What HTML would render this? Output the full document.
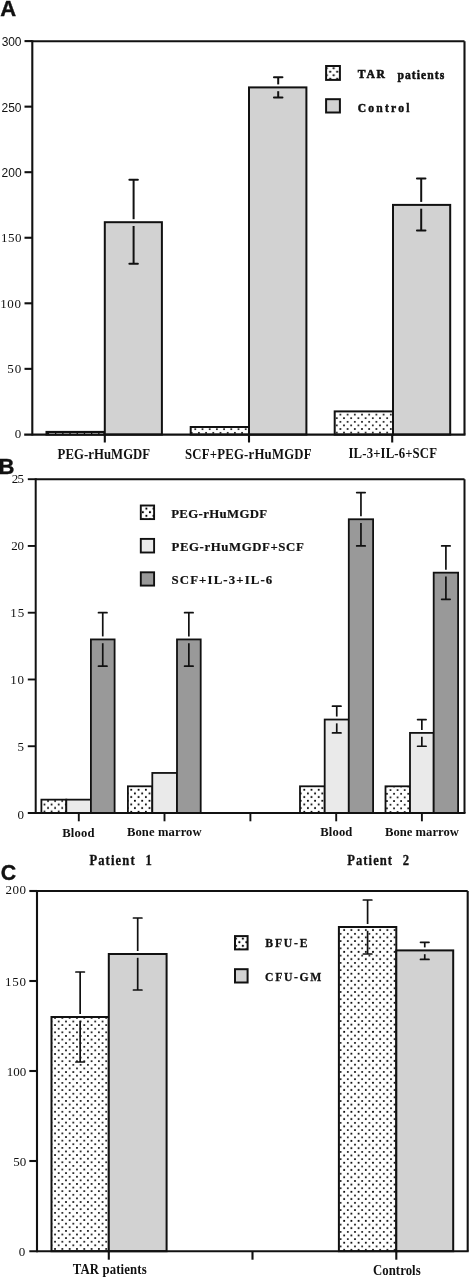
<!DOCTYPE html>
<html><head><meta charset="utf-8"><style>
html,body{margin:0;padding:0;background:#fff;width:471px;height:1280px;overflow:hidden}
svg{display:block;will-change:transform}
text{fill:#111}
.ab{font-family:"Liberation Sans",sans-serif;font-weight:bold;stroke:#111;stroke-width:0.4px}
.a{font-family:"Liberation Sans",sans-serif}
.s{font-family:"Liberation Serif",serif}
.sb{font-family:"Liberation Serif",serif;font-weight:bold}
</style></head><body>
<svg width="471" height="1280" viewBox="0 0 471 1280">
<defs>
<pattern id="dots" patternUnits="userSpaceOnUse" width="7.27" height="7.34" x="0.3" y="0.5">
<circle cx="1.8" cy="1.8" r="1.0" fill="#000"/><circle cx="5.435" cy="5.47" r="1.0" fill="#000"/>
</pattern>
<pattern id="dotsA2" patternUnits="userSpaceOnUse" width="7.2" height="7.2" x="193.50" y="427.40"><circle cx="1.8" cy="1.8" r="1.0" fill="#000"/><circle cx="5.40" cy="5.40" r="1.0" fill="#000"/></pattern>
<pattern id="dotsB1" patternUnits="userSpaceOnUse" width="7.1" height="7.0" x="42.70" y="802.70"><circle cx="1.8" cy="1.8" r="1.0" fill="#000"/><circle cx="5.35" cy="5.30" r="1.0" fill="#000"/></pattern>
<pattern id="dotsB2" patternUnits="userSpaceOnUse" width="7.3" height="7.34" x="129.45" y="788.00"><circle cx="1.8" cy="1.8" r="1.0" fill="#000"/><circle cx="5.45" cy="5.47" r="1.0" fill="#000"/></pattern>
<pattern id="dotsB3" patternUnits="userSpaceOnUse" width="7.2" height="7.34" x="302.50" y="788.00"><circle cx="1.8" cy="1.8" r="1.0" fill="#000"/><circle cx="5.40" cy="5.47" r="1.0" fill="#000"/></pattern>
<pattern id="dotsB4" patternUnits="userSpaceOnUse" width="7.1" height="7.3" x="388.70" y="788.30"><circle cx="1.8" cy="1.8" r="1.0" fill="#000"/><circle cx="5.35" cy="5.45" r="1.0" fill="#000"/></pattern>
<pattern id="dotsA3" patternUnits="userSpaceOnUse" width="7.2" height="7.2" x="338.60" y="412.80"><circle cx="1.8" cy="1.8" r="1.0" fill="#000"/><circle cx="5.40" cy="5.40" r="1.0" fill="#000"/></pattern>
<pattern id="dotsC1" patternUnits="userSpaceOnUse" width="7.31" height="7.22" x="64.20" y="1019.70"><circle cx="1.8" cy="1.8" r="1.0" fill="#000"/><circle cx="5.46" cy="5.41" r="1.0" fill="#000"/></pattern>
<pattern id="dotsC2" patternUnits="userSpaceOnUse" width="7.2" height="7.27" x="346.00" y="1099.20"><circle cx="1.8" cy="1.8" r="1.0" fill="#000"/><circle cx="5.40" cy="5.43" r="1.0" fill="#000"/></pattern>
<pattern id="dotsA" patternUnits="userSpaceOnUse" width="7.0" height="7.0" x="328.40" y="69.90"><circle cx="1.8" cy="1.8" r="1.1" fill="#000"/><circle cx="5.30" cy="5.30" r="1.1" fill="#000"/></pattern>
<pattern id="dotsB" patternUnits="userSpaceOnUse" width="7.1" height="7.2" x="144.60" y="506.80"><circle cx="1.8" cy="1.8" r="1.1" fill="#000"/><circle cx="5.35" cy="5.40" r="1.1" fill="#000"/></pattern>
<pattern id="dotsC" patternUnits="userSpaceOnUse" width="7.0" height="7.2" x="241.10" y="936.80"><circle cx="1.8" cy="1.8" r="1.1" fill="#000"/><circle cx="5.30" cy="5.40" r="1.1" fill="#000"/></pattern>
</defs>
<rect width="471" height="1280" fill="#fff"/>
<rect x="45.50" y="430.9" width="60.30" height="4.7" fill="#111"/>
<line x1="49.1" y1="433.5" x2="103.30" y2="433.5" stroke="#fff" stroke-width="1.0" stroke-dasharray="5.9 1.3"/>
<rect x="104.80" y="222.20" width="57.10" height="212.40" fill="#d2d2d2" stroke="#111" stroke-width="2.0"/>
<line x1="133.60" y1="179.80" x2="133.60" y2="219.20" stroke="#111" stroke-width="2.0" stroke-linecap="butt"/>
<line x1="133.60" y1="226.00" x2="133.60" y2="263.80" stroke="#111" stroke-width="2.0" stroke-linecap="butt"/>
<line x1="129.35" y1="179.80" x2="137.85" y2="179.80" stroke="#111" stroke-width="2.0" stroke-linecap="round"/>
<line x1="129.35" y1="263.80" x2="137.85" y2="263.80" stroke="#111" stroke-width="2.0" stroke-linecap="round"/>
<rect x="190.70" y="427.00" width="58.30" height="7.60" fill="url(#dotsA2)" stroke="#111" stroke-width="2.0"/>
<rect x="249.00" y="87.40" width="57.40" height="347.20" fill="#d2d2d2" stroke="#111" stroke-width="2.0"/>
<line x1="278.20" y1="77.20" x2="278.20" y2="84.40" stroke="#111" stroke-width="2.0" stroke-linecap="butt"/>
<line x1="278.20" y1="91.20" x2="278.20" y2="97.60" stroke="#111" stroke-width="2.0" stroke-linecap="butt"/>
<line x1="273.95" y1="77.20" x2="282.45" y2="77.20" stroke="#111" stroke-width="2.0" stroke-linecap="round"/>
<line x1="273.95" y1="97.60" x2="282.45" y2="97.60" stroke="#111" stroke-width="2.0" stroke-linecap="round"/>
<rect x="334.70" y="411.40" width="58.30" height="23.20" fill="url(#dotsA3)" stroke="#111" stroke-width="2.0"/>
<rect x="393.00" y="204.90" width="57.20" height="229.70" fill="#d2d2d2" stroke="#111" stroke-width="2.0"/>
<line x1="421.20" y1="178.60" x2="421.20" y2="201.90" stroke="#111" stroke-width="2.0" stroke-linecap="butt"/>
<line x1="421.20" y1="208.70" x2="421.20" y2="230.50" stroke="#111" stroke-width="2.0" stroke-linecap="butt"/>
<line x1="416.95" y1="178.60" x2="425.45" y2="178.60" stroke="#111" stroke-width="2.0" stroke-linecap="round"/>
<line x1="416.95" y1="230.50" x2="425.45" y2="230.50" stroke="#111" stroke-width="2.0" stroke-linecap="round"/>
<line x1="32.30" y1="41.30" x2="464.50" y2="41.30" stroke="#111" stroke-width="2.1" stroke-linecap="butt"/>
<line x1="464.50" y1="41.30" x2="464.50" y2="434.60" stroke="#111" stroke-width="2.1" stroke-linecap="butt"/>
<line x1="32.30" y1="40.30" x2="32.30" y2="435.60" stroke="#111" stroke-width="2.1" stroke-linecap="butt"/>
<line x1="24.20" y1="434.60" x2="465.50" y2="434.60" stroke="#111" stroke-width="2.1" stroke-linecap="butt"/>
<line x1="24.50" y1="368.85" x2="32.30" y2="368.85" stroke="#111" stroke-width="2.1" stroke-linecap="butt"/>
<line x1="24.50" y1="303.30" x2="32.30" y2="303.30" stroke="#111" stroke-width="2.1" stroke-linecap="butt"/>
<line x1="24.50" y1="237.75" x2="32.30" y2="237.75" stroke="#111" stroke-width="2.1" stroke-linecap="butt"/>
<line x1="24.50" y1="172.20" x2="32.30" y2="172.20" stroke="#111" stroke-width="2.1" stroke-linecap="butt"/>
<line x1="24.50" y1="106.65" x2="32.30" y2="106.65" stroke="#111" stroke-width="2.1" stroke-linecap="butt"/>
<line x1="24.50" y1="41.10" x2="32.30" y2="41.10" stroke="#111" stroke-width="2.1" stroke-linecap="butt"/>
<line x1="104.80" y1="434.60" x2="104.80" y2="442.50" stroke="#111" stroke-width="2.1" stroke-linecap="butt"/>
<line x1="249.00" y1="434.60" x2="249.00" y2="442.50" stroke="#111" stroke-width="2.1" stroke-linecap="butt"/>
<line x1="392.20" y1="434.60" x2="392.20" y2="442.50" stroke="#111" stroke-width="2.1" stroke-linecap="butt"/>
<rect x="326.10" y="66.00" width="13.80" height="13.90" fill="url(#dotsA)" stroke="#111" stroke-width="2.0"/>
<rect x="326.10" y="99.20" width="13.80" height="13.30" fill="#d2d2d2" stroke="#111" stroke-width="2.0"/>
<rect x="41.40" y="799.65" width="24.90" height="13.35" fill="url(#dotsB1)" stroke="#111" stroke-width="1.8"/>
<rect x="66.30" y="799.65" width="24.60" height="13.35" fill="#eaeaea" stroke="#111" stroke-width="1.8"/>
<rect x="90.90" y="639.42" width="23.70" height="173.58" fill="#999999" stroke="#111" stroke-width="1.8"/>
<line x1="102.75" y1="612.72" x2="102.75" y2="636.42" stroke="#111" stroke-width="1.7" stroke-linecap="butt"/>
<line x1="102.75" y1="643.22" x2="102.75" y2="666.13" stroke="#111" stroke-width="1.7" stroke-linecap="butt"/>
<line x1="98.50" y1="612.72" x2="107.00" y2="612.72" stroke="#111" stroke-width="1.7" stroke-linecap="round"/>
<line x1="98.50" y1="666.13" x2="107.00" y2="666.13" stroke="#111" stroke-width="1.7" stroke-linecap="round"/>
<rect x="127.90" y="786.30" width="24.40" height="26.70" fill="url(#dotsB2)" stroke="#111" stroke-width="1.8"/>
<rect x="152.30" y="772.94" width="24.70" height="40.06" fill="#eaeaea" stroke="#111" stroke-width="1.8"/>
<rect x="177.00" y="639.42" width="23.70" height="173.58" fill="#999999" stroke="#111" stroke-width="1.8"/>
<line x1="188.85" y1="612.72" x2="188.85" y2="636.42" stroke="#111" stroke-width="1.7" stroke-linecap="butt"/>
<line x1="188.85" y1="643.22" x2="188.85" y2="666.13" stroke="#111" stroke-width="1.7" stroke-linecap="butt"/>
<line x1="184.60" y1="612.72" x2="193.10" y2="612.72" stroke="#111" stroke-width="1.7" stroke-linecap="round"/>
<line x1="184.60" y1="666.13" x2="193.10" y2="666.13" stroke="#111" stroke-width="1.7" stroke-linecap="round"/>
<rect x="300.00" y="786.30" width="24.70" height="26.70" fill="url(#dotsB3)" stroke="#111" stroke-width="1.8"/>
<rect x="324.70" y="719.54" width="24.10" height="93.46" fill="#eaeaea" stroke="#111" stroke-width="1.8"/>
<rect x="348.80" y="519.26" width="24.30" height="293.74" fill="#999999" stroke="#111" stroke-width="1.8"/>
<line x1="336.75" y1="706.18" x2="336.75" y2="716.54" stroke="#111" stroke-width="1.7" stroke-linecap="butt"/>
<line x1="336.75" y1="723.34" x2="336.75" y2="732.89" stroke="#111" stroke-width="1.7" stroke-linecap="butt"/>
<line x1="332.50" y1="706.18" x2="341.00" y2="706.18" stroke="#111" stroke-width="1.7" stroke-linecap="round"/>
<line x1="332.50" y1="732.89" x2="341.00" y2="732.89" stroke="#111" stroke-width="1.7" stroke-linecap="round"/>
<line x1="360.95" y1="492.55" x2="360.95" y2="516.26" stroke="#111" stroke-width="1.7" stroke-linecap="butt"/>
<line x1="360.95" y1="523.06" x2="360.95" y2="545.96" stroke="#111" stroke-width="1.7" stroke-linecap="butt"/>
<line x1="356.70" y1="492.55" x2="365.20" y2="492.55" stroke="#111" stroke-width="1.7" stroke-linecap="round"/>
<line x1="356.70" y1="545.96" x2="365.20" y2="545.96" stroke="#111" stroke-width="1.7" stroke-linecap="round"/>
<rect x="385.50" y="786.30" width="24.50" height="26.70" fill="url(#dotsB4)" stroke="#111" stroke-width="1.8"/>
<rect x="410.00" y="732.89" width="23.70" height="80.11" fill="#eaeaea" stroke="#111" stroke-width="1.8"/>
<rect x="433.70" y="572.66" width="24.40" height="240.34" fill="#999999" stroke="#111" stroke-width="1.8"/>
<line x1="421.85" y1="719.54" x2="421.85" y2="729.89" stroke="#111" stroke-width="1.7" stroke-linecap="butt"/>
<line x1="421.85" y1="736.69" x2="421.85" y2="746.24" stroke="#111" stroke-width="1.7" stroke-linecap="butt"/>
<line x1="417.60" y1="719.54" x2="426.10" y2="719.54" stroke="#111" stroke-width="1.7" stroke-linecap="round"/>
<line x1="417.60" y1="746.24" x2="426.10" y2="746.24" stroke="#111" stroke-width="1.7" stroke-linecap="round"/>
<line x1="445.90" y1="545.96" x2="445.90" y2="569.66" stroke="#111" stroke-width="1.7" stroke-linecap="butt"/>
<line x1="445.90" y1="576.46" x2="445.90" y2="599.37" stroke="#111" stroke-width="1.7" stroke-linecap="butt"/>
<line x1="441.65" y1="545.96" x2="450.15" y2="545.96" stroke="#111" stroke-width="1.7" stroke-linecap="round"/>
<line x1="441.65" y1="599.37" x2="450.15" y2="599.37" stroke="#111" stroke-width="1.7" stroke-linecap="round"/>
<line x1="35.70" y1="479.30" x2="464.50" y2="479.30" stroke="#111" stroke-width="2.0" stroke-linecap="butt"/>
<line x1="464.50" y1="479.30" x2="464.50" y2="813.00" stroke="#111" stroke-width="2.0" stroke-linecap="butt"/>
<line x1="35.70" y1="478.30" x2="35.70" y2="814.00" stroke="#111" stroke-width="2.0" stroke-linecap="butt"/>
<line x1="27.80" y1="813.00" x2="465.50" y2="813.00" stroke="#111" stroke-width="2.0" stroke-linecap="butt"/>
<line x1="27.80" y1="746.24" x2="35.70" y2="746.24" stroke="#111" stroke-width="1.9" stroke-linecap="butt"/>
<line x1="27.80" y1="679.48" x2="35.70" y2="679.48" stroke="#111" stroke-width="1.9" stroke-linecap="butt"/>
<line x1="27.80" y1="612.72" x2="35.70" y2="612.72" stroke="#111" stroke-width="1.9" stroke-linecap="butt"/>
<line x1="27.80" y1="545.96" x2="35.70" y2="545.96" stroke="#111" stroke-width="1.9" stroke-linecap="butt"/>
<line x1="27.80" y1="479.20" x2="35.70" y2="479.20" stroke="#111" stroke-width="1.9" stroke-linecap="butt"/>
<line x1="78.80" y1="813.00" x2="78.80" y2="821.30" stroke="#111" stroke-width="1.9" stroke-linecap="butt"/>
<line x1="164.50" y1="813.00" x2="164.50" y2="821.30" stroke="#111" stroke-width="1.9" stroke-linecap="butt"/>
<line x1="250.40" y1="813.00" x2="250.40" y2="821.30" stroke="#111" stroke-width="1.9" stroke-linecap="butt"/>
<line x1="336.20" y1="813.00" x2="336.20" y2="821.30" stroke="#111" stroke-width="1.9" stroke-linecap="butt"/>
<line x1="421.90" y1="813.00" x2="421.90" y2="821.30" stroke="#111" stroke-width="1.9" stroke-linecap="butt"/>
<rect x="140.80" y="505.50" width="13.30" height="13.60" fill="url(#dotsB)" stroke="#111" stroke-width="1.9"/>
<rect x="140.80" y="538.90" width="13.30" height="13.60" fill="#eaeaea" stroke="#111" stroke-width="1.9"/>
<rect x="140.80" y="572.30" width="13.30" height="13.30" fill="#999999" stroke="#111" stroke-width="1.9"/>
<rect x="51.50" y="1017.00" width="57.30" height="234.20" fill="url(#dotsC1)" stroke="#111" stroke-width="2.0"/>
<rect x="108.80" y="954.00" width="57.80" height="297.20" fill="#d2d2d2" stroke="#111" stroke-width="2.0"/>
<line x1="80.15" y1="972.00" x2="80.15" y2="1014.00" stroke="#111" stroke-width="1.7" stroke-linecap="butt"/>
<line x1="80.15" y1="1020.80" x2="80.15" y2="1062.00" stroke="#111" stroke-width="1.7" stroke-linecap="butt"/>
<line x1="75.90" y1="972.00" x2="84.40" y2="972.00" stroke="#111" stroke-width="1.7" stroke-linecap="round"/>
<line x1="75.90" y1="1062.00" x2="84.40" y2="1062.00" stroke="#111" stroke-width="1.7" stroke-linecap="round"/>
<line x1="137.70" y1="918.00" x2="137.70" y2="951.00" stroke="#111" stroke-width="1.7" stroke-linecap="butt"/>
<line x1="137.70" y1="957.80" x2="137.70" y2="990.00" stroke="#111" stroke-width="1.7" stroke-linecap="butt"/>
<line x1="133.45" y1="918.00" x2="141.95" y2="918.00" stroke="#111" stroke-width="1.7" stroke-linecap="round"/>
<line x1="133.45" y1="990.00" x2="141.95" y2="990.00" stroke="#111" stroke-width="1.7" stroke-linecap="round"/>
<rect x="338.90" y="927.00" width="57.40" height="324.20" fill="url(#dotsC2)" stroke="#111" stroke-width="2.0"/>
<rect x="396.30" y="950.40" width="56.90" height="300.80" fill="#d2d2d2" stroke="#111" stroke-width="2.0"/>
<line x1="367.60" y1="900.00" x2="367.60" y2="924.00" stroke="#111" stroke-width="1.7" stroke-linecap="butt"/>
<line x1="367.60" y1="930.80" x2="367.60" y2="954.00" stroke="#111" stroke-width="1.7" stroke-linecap="butt"/>
<line x1="363.35" y1="900.00" x2="371.85" y2="900.00" stroke="#111" stroke-width="1.7" stroke-linecap="round"/>
<line x1="363.35" y1="954.00" x2="371.85" y2="954.00" stroke="#111" stroke-width="1.7" stroke-linecap="round"/>
<line x1="424.75" y1="942.30" x2="424.75" y2="947.40" stroke="#111" stroke-width="1.7" stroke-linecap="butt"/>
<line x1="424.75" y1="954.20" x2="424.75" y2="959.40" stroke="#111" stroke-width="1.7" stroke-linecap="butt"/>
<line x1="420.50" y1="942.30" x2="429.00" y2="942.30" stroke="#111" stroke-width="1.7" stroke-linecap="round"/>
<line x1="420.50" y1="959.40" x2="429.00" y2="959.40" stroke="#111" stroke-width="1.7" stroke-linecap="round"/>
<line x1="37.00" y1="891.00" x2="467.70" y2="891.00" stroke="#111" stroke-width="2.1" stroke-linecap="butt"/>
<line x1="467.70" y1="891.00" x2="467.70" y2="1251.20" stroke="#111" stroke-width="2.1" stroke-linecap="butt"/>
<line x1="37.00" y1="890.00" x2="37.00" y2="1252.20" stroke="#111" stroke-width="2.1" stroke-linecap="butt"/>
<line x1="29.30" y1="1251.20" x2="468.70" y2="1251.20" stroke="#111" stroke-width="2.1" stroke-linecap="butt"/>
<line x1="29.30" y1="1161.00" x2="37.00" y2="1161.00" stroke="#111" stroke-width="2.1" stroke-linecap="butt"/>
<line x1="29.30" y1="1071.00" x2="37.00" y2="1071.00" stroke="#111" stroke-width="2.1" stroke-linecap="butt"/>
<line x1="29.30" y1="981.00" x2="37.00" y2="981.00" stroke="#111" stroke-width="2.1" stroke-linecap="butt"/>
<line x1="29.30" y1="891.00" x2="37.00" y2="891.00" stroke="#111" stroke-width="2.1" stroke-linecap="butt"/>
<line x1="108.80" y1="1251.20" x2="108.80" y2="1259.70" stroke="#111" stroke-width="2.1" stroke-linecap="butt"/>
<line x1="252.50" y1="1251.20" x2="252.50" y2="1259.70" stroke="#111" stroke-width="2.1" stroke-linecap="butt"/>
<line x1="396.30" y1="1251.20" x2="396.30" y2="1259.70" stroke="#111" stroke-width="2.1" stroke-linecap="butt"/>
<rect x="235.00" y="936.10" width="12.60" height="13.30" fill="url(#dotsC)" stroke="#111" stroke-width="2.0"/>
<rect x="235.00" y="969.20" width="12.60" height="13.30" fill="#d2d2d2" stroke="#111" stroke-width="2.0"/>
<text x="0.21" y="16.29" class="ab" font-size="22">A</text>
<text x="1.85" y="46.26" textLength="19.51" lengthAdjust="spacing" class="a" font-size="12">300</text>
<text x="1.47" y="112.31" textLength="20.09" lengthAdjust="spacing" class="a" font-size="12">250</text>
<text x="1.58" y="177.16" textLength="20.04" lengthAdjust="spacing" class="a" font-size="12">200</text>
<text x="0.90" y="241.51" textLength="20.50" lengthAdjust="spacing" class="s" font-size="13">150</text>
<text x="0.21" y="307.83" textLength="20.82" lengthAdjust="spacing" class="s" font-size="13">100</text>
<text x="7.27" y="373.31" textLength="14.09" lengthAdjust="spacing" class="s" font-size="13">50</text>
<text x="14.73" y="437.77" class="s" font-size="13">0</text>
<text transform="translate(357.86,77.54) scale(0.86,1.0)" textLength="31.55" lengthAdjust="spacing" stroke="#111" stroke-width="0.6" class="sb" font-size="13.5">TAR</text>
<text transform="translate(397.43,78.50) scale(0.86,1.0)" textLength="54.50" lengthAdjust="spacing" stroke="#111" stroke-width="0.55" class="sb" font-size="13.5">patients</text>
<text transform="translate(357.75,112.40) scale(0.86,1.0)" textLength="60.15" lengthAdjust="spacing" stroke="#111" stroke-width="0.5" class="sb" font-size="13.5">Control</text>
<text transform="translate(57.56,458.71) scale(0.94,1.0)" textLength="98.55" lengthAdjust="spacing" class="sb" font-size="13.6">PEG-rHuMGDF</text>
<text transform="translate(185.05,458.71) scale(0.94,1.0)" textLength="134.54" lengthAdjust="spacing" class="sb" font-size="13.6">SCF+PEG-rHuMGDF</text>
<text transform="translate(348.51,458.01) scale(0.94,1.0)" textLength="94.18" lengthAdjust="spacing" class="sb" font-size="13.6">IL-3+IL-6+SCF</text>
<text x="-1.56" y="473.53" class="ab" font-size="22">B</text>
<text x="11.79" y="483.11" textLength="12.12" lengthAdjust="spacing" class="s" font-size="13">25</text>
<text x="11.25" y="550.10" textLength="12.64" lengthAdjust="spacing" class="s" font-size="13">20</text>
<text x="10.20" y="616.51" textLength="14.02" lengthAdjust="spacing" class="s" font-size="13">15</text>
<text x="10.20" y="683.89" textLength="13.75" lengthAdjust="spacing" class="s" font-size="13">10</text>
<text x="23.97" y="750.80" text-anchor="end" class="s" font-size="13">5</text>
<text x="17.58" y="818.59" class="s" font-size="13">0</text>
<text x="171.19" y="517.80" textLength="95.92" lengthAdjust="spacing" stroke="#111" stroke-width="0.2" class="sb" font-size="12.8">PEG-rHuMGDF</text>
<text x="171.52" y="551.40" textLength="132.19" lengthAdjust="spacing" stroke="#111" stroke-width="0.2" class="sb" font-size="12.8">PEG-rHuMGDF+SCF</text>
<text x="171.54" y="584.00" textLength="100.73" lengthAdjust="spacing" stroke="#111" stroke-width="0.2" class="sb" font-size="12.8">SCF+IL-3+IL-6</text>
<text transform="translate(62.23,836.65) scale(0.95,1.0)" textLength="34.03" lengthAdjust="spacing" class="sb" font-size="13.3">Blood</text>
<text transform="translate(126.92,835.80) scale(0.95,1.0)" textLength="78.66" lengthAdjust="spacing" class="sb" font-size="13.3">Bone marrow</text>
<text transform="translate(320.31,835.80) scale(0.95,1.0)" textLength="33.75" lengthAdjust="spacing" class="sb" font-size="13.3">Blood</text>
<text transform="translate(384.97,835.80) scale(0.95,1.0)" textLength="77.79" lengthAdjust="spacing" class="sb" font-size="13.3">Bone marrow</text>
<text transform="translate(89.42,865.23) scale(0.9,1.0)" textLength="50.18" lengthAdjust="spacing" stroke="#111" stroke-width="0.3" class="sb" font-size="14">Patient</text>
<text transform="translate(145.51,864.60) scale(0.9,1.0)" stroke="#111" stroke-width="0.3" class="sb" font-size="14">1</text>
<text transform="translate(347.29,865.00) scale(0.9,1.0)" textLength="49.76" lengthAdjust="spacing" stroke="#111" stroke-width="0.3" class="sb" font-size="14">Patient</text>
<text transform="translate(402.70,865.00) scale(0.9,1.0)" stroke="#111" stroke-width="0.3" class="sb" font-size="14">2</text>
<text transform="translate(0.87,880.17) scale(0.95,1.0)" class="ab" font-size="22.5">C</text>
<text x="5.62" y="894.29" textLength="20.43" lengthAdjust="spacing" class="s" font-size="13">200</text>
<text x="5.12" y="985.61" textLength="20.97" lengthAdjust="spacing" class="s" font-size="13">150</text>
<text x="26.18" y="1076.10" text-anchor="end" class="s" font-size="13">100</text>
<text x="26.18" y="1166.20" text-anchor="end" class="s" font-size="13">50</text>
<text x="18.87" y="1255.50" class="s" font-size="13">0</text>
<text transform="translate(265.35,947.44) scale(0.88,1.0)" textLength="47.84" lengthAdjust="spacing" stroke="#111" stroke-width="0.3" class="sb" font-size="13.3">BFU-E</text>
<text transform="translate(265.11,980.74) scale(0.88,1.0)" textLength="63.80" lengthAdjust="spacing" stroke="#111" stroke-width="0.3" class="sb" font-size="13.3">CFU-GM</text>
<text transform="translate(72.73,1274.40) scale(0.94,1.0)" textLength="78.65" lengthAdjust="spacing" class="sb" font-size="13.6">TAR patients</text>
<text transform="translate(372.93,1274.60) scale(0.94,1.0)" textLength="50.80" lengthAdjust="spacing" class="sb" font-size="13.6">Controls</text>
</svg>
</body></html>
